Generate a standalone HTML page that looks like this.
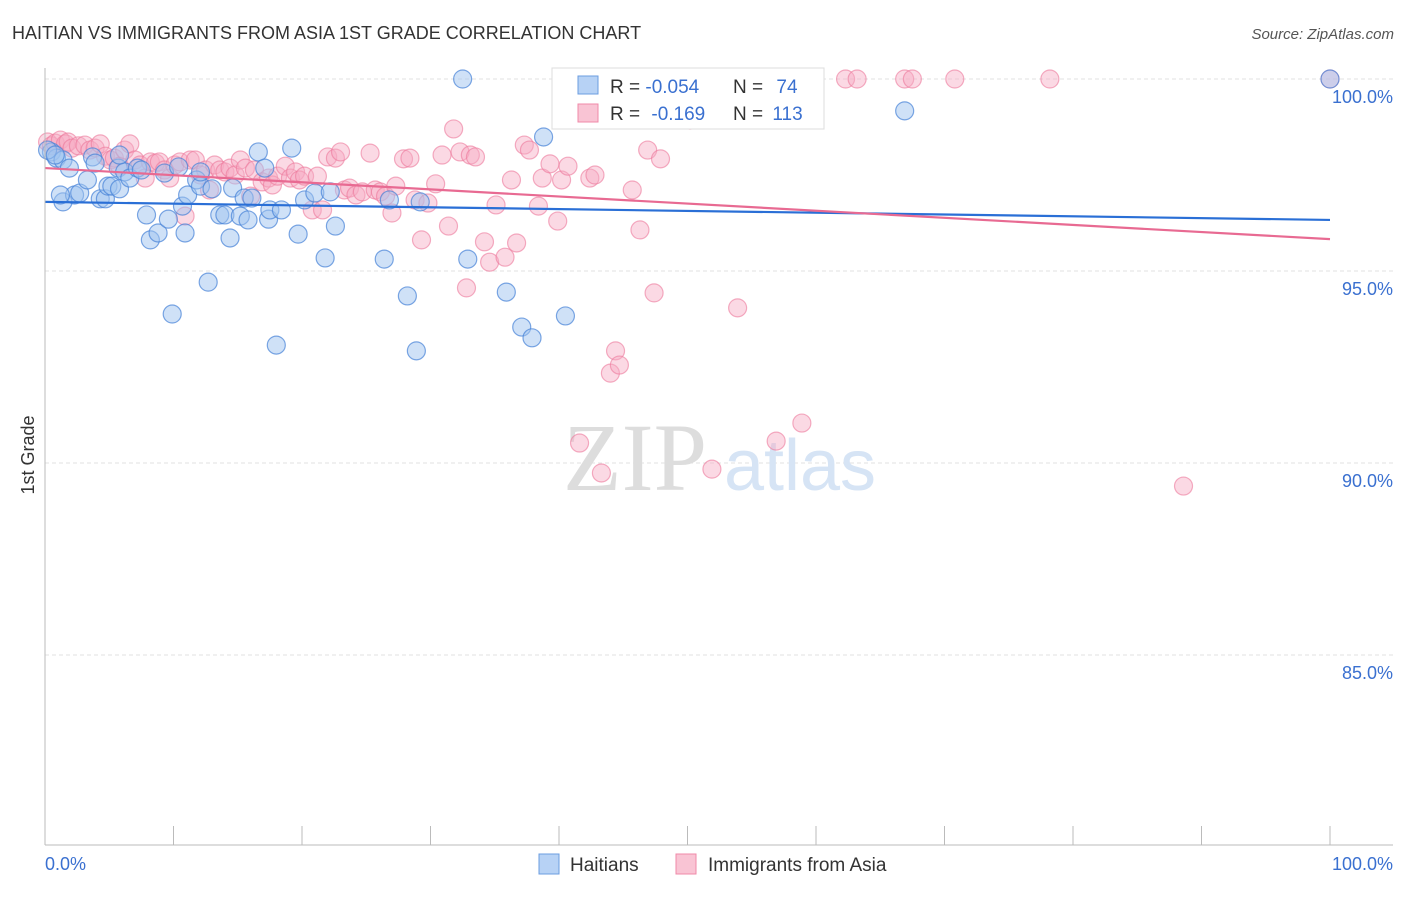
<!DOCTYPE html>
<html><head><meta charset="utf-8"><style>
body{margin:0;background:#fff;font-family:"Liberation Sans",sans-serif;}
</style></head><body>
<svg width="1406" height="892" xmlns="http://www.w3.org/2000/svg">
<text x="12" y="39" font-size="18" fill="#333">HAITIAN VS IMMIGRANTS FROM ASIA 1ST GRADE CORRELATION CHART</text>
<text x="1394" y="39" font-size="15" fill="#555" font-style="italic" text-anchor="end">Source: ZipAtlas.com</text>
<g id="grid"></g>
<text x="635" y="490" font-size="96" fill="#ddd" font-family="Liberation Serif" text-anchor="middle">ZIP</text>
<text x="800" y="490" font-size="72" fill="#d6e4f5" text-anchor="middle">atlas</text>
<g id="pts"></g>
<g id="axes"></g>
<text x="34" y="455" font-size="18" fill="#333" transform="rotate(-90 34 455)" text-anchor="middle">1st Grade</text>
<g>
<rect x="552" y="68" width="272" height="61" fill="#fff" stroke="#ddd"/>
<rect x="578" y="76" width="20" height="18" fill="#b7d2f5" stroke="#6b9de0"/>
<rect x="578" y="104" width="20" height="18" fill="#f9c4d4" stroke="#f08aa8"/>
<text x="610" y="93" font-size="19" fill="#333">R = <tspan fill="#3a70d0">-0.054</tspan></text>
<text x="733" y="93" font-size="19" fill="#333">N = <tspan fill="#3a70d0" dx="8">74</tspan></text>
<text x="610" y="120" font-size="19" fill="#333">R = <tspan fill="#3a70d0" dx="6">-0.169</tspan></text>
<text x="733" y="120" font-size="19" fill="#333">N = <tspan fill="#3a70d0" dx="4">113</tspan></text>
</g>
<g>
<rect x="539" y="854" width="20" height="20" fill="#b7d2f5" stroke="#6b9de0"/>
<text x="570" y="871" font-size="19" fill="#333">Haitians</text>
<rect x="676" y="854" width="20" height="20" fill="#f9c4d4" stroke="#f08aa8"/>
<text x="708" y="871" font-size="19" fill="#333">Immigrants from Asia</text>
</g>
</svg>
<script>
const blueX=[0.5,0.9,1.4,1.4,1.9,2.3,2.7,3.3,3.7,3.9,4.3,4.7,4.9,5.2,5.8,5.7,6.2,6.6,7.2,7.5,7.9,8.2,8.8,9.3,9.6,9.9,10.4,10.7,10.9,11.1,11.8,12.1,12.7,13.0,13.6,14.0,14.4,14.6,15.2,15.5,15.8,16.1,16.6,17.1,17.4,17.5,18.0,18.4,19.2,19.7,20.2,21.0,21.8,22.2,22.6,26.4,26.8,28.2,28.9,29.2,32.5,32.9,35.9,37.1,37.9,38.8,40.5,66.9,100,0.2,0.8,5.8,12.1,1.2];
const blueY=[98.10,97.94,97.89,96.80,97.68,96.98,97.03,97.37,97.97,97.81,96.88,96.88,97.21,97.21,97.14,97.68,97.58,97.42,97.68,97.63,96.46,95.81,95.99,97.55,96.35,93.88,97.71,96.69,95.99,96.98,97.37,97.21,94.71,97.14,96.46,96.46,95.86,97.16,96.43,96.90,96.33,96.90,98.10,97.68,96.35,96.59,93.07,96.59,98.20,95.96,96.85,97.03,95.34,97.06,96.17,95.31,96.85,94.35,92.92,96.80,100,95.31,94.45,93.54,93.26,98.49,93.83,99.17,100,98.15,98.02,98.02,97.58,96.98];
const pinkX=[0.2,0.5,0.8,1.2,1.6,1.8,2.1,2.6,3.1,3.5,3.9,4.3,4.7,5.1,5.4,5.8,6.2,6.6,7.0,7.4,7.8,8.2,8.6,8.9,9.3,9.7,10.1,10.5,10.9,11.3,11.7,12.1,12.5,12.8,13.2,13.6,14.0,14.4,14.8,15.2,15.6,16.0,16.3,16.9,17.4,17.7,18.1,18.7,19.1,19.5,19.8,20.2,20.8,21.2,21.6,22.0,22.6,23.0,23.3,23.7,24.2,24.7,25.3,25.7,26.1,26.5,27.0,27.3,27.9,28.4,28.8,29.3,29.8,30.4,30.9,31.4,31.8,32.3,32.8,33.1,33.5,34.2,34.6,35.1,35.8,36.3,36.7,37.3,37.7,38.4,38.7,39.3,39.9,40.2,40.7,41.6,42.4,42.8,43.3,44.4,44.0,44.7,45.7,46.3,46.9,47.4,47.9,50.2,51.9,52.1,53.2,53.9,54.5,56.9,58.9,62.3,63.2,66.9,67.5,70.8,78.2,88.6,100];
const pinkY=[98.36,98.26,98.33,98.41,98.31,98.36,98.20,98.26,98.28,98.15,98.20,98.31,97.99,97.89,97.94,97.73,98.15,98.31,97.89,97.76,97.42,97.84,97.81,97.84,97.63,97.42,97.76,97.84,96.43,97.89,97.89,97.50,97.63,97.11,97.76,97.63,97.58,97.68,97.50,97.89,97.68,96.95,97.63,97.32,97.42,97.24,97.47,97.73,97.42,97.58,97.37,97.47,96.59,97.47,96.59,97.97,97.94,98.10,97.11,97.16,96.98,97.06,98.07,97.11,97.06,96.95,96.51,97.21,97.92,97.94,96.85,95.81,96.77,97.27,98.02,96.17,98.70,98.10,94.56,98.02,97.97,95.76,95.23,96.72,95.36,97.37,95.73,98.28,98.15,96.69,97.42,97.79,96.30,97.37,97.73,90.52,97.42,97.50,89.74,92.92,92.34,92.55,97.11,96.07,98.15,94.43,97.92,98.93,89.84,99.97,99.97,94.04,99.58,90.57,91.04,100,100,100,100,100,100,89.40,100];
const blueTrend=[96.80,96.33];
const pinkTrend=[97.68,95.83];
const yTicks=[100,95,90,85];
const xTickLabels=["0.0%","100.0%"];
const NS="http://www.w3.org/2000/svg";
const sx=v=>45+v*12.85;
const sy=v=>79+(100-v)*38.4;
function mk(tag,attrs,parent,txt){const e=document.createElementNS(NS,tag);for(const k in attrs)e.setAttribute(k,attrs[k]);if(txt!==undefined)e.textContent=txt;parent.appendChild(e);return e;}
const grid=document.getElementById('grid'),axes=document.getElementById('axes'),pts=document.getElementById('pts');
yTicks.forEach(t=>{
 const l=mk('line',{x1:45,x2:1393,y1:sy(t),y2:sy(t),stroke:'#e2e2e2','stroke-dasharray':'4 3'},grid);
 
 
 const tx=mk('text',{x:1393,y:sy(t)+24,'font-size':18,fill:'#3a70d0','text-anchor':'end'},axes,t.toFixed(1)+'%');
 
 
});
const al=mk('line',{x1:45,x2:1393,y1:845,y2:845,stroke:'#bbb'},axes);


const yl=mk('line',{x1:45,x2:45,y1:68,y2:845,stroke:'#bbb'},axes);


for(let i=0;i<=10;i++){
 const t=mk('line',{x1:sx(i*10),x2:sx(i*10),y1:826,y2:845,stroke:'#bbb'},axes);
 
 
}
const xl0=mk('text',{x:45,y:870,'font-size':18,fill:'#3a70d0'},axes,xTickLabels[0]);


const xl1=mk('text',{x:1393,y:870,'font-size':18,fill:'#3a70d0','text-anchor':'end'},axes,xTickLabels[1]);


pinkX.forEach((x,i)=>{
 const c=mk('circle',{cx:sx(x),cy:sy(pinkY[i]),r:9,fill:'rgba(247,170,195,0.45)',stroke:'rgba(236,120,155,0.6)','stroke-width':1.2},pts);
 
 
});
blueX.forEach((x,i)=>{
 const c=mk('circle',{cx:sx(x),cy:sy(blueY[i]),r:9,fill:'rgba(160,195,240,0.5)',stroke:'rgba(70,130,215,0.7)','stroke-width':1.2},pts);
 
 
});
const bt=mk('line',{x1:sx(0),x2:sx(100),y1:sy(blueTrend[0]),y2:sy(blueTrend[1]),stroke:'#2a6fd6','stroke-width':2.2},pts);


const pt=mk('line',{x1:sx(0),x2:sx(100),y1:sy(pinkTrend[0]),y2:sy(pinkTrend[1]),stroke:'#e86a92','stroke-width':2.2},pts);


</script>
</body></html>
